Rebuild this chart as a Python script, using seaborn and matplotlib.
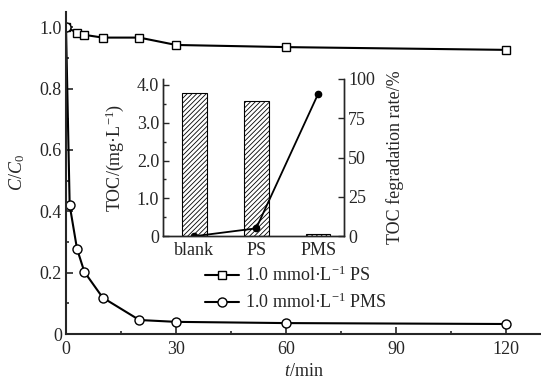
import matplotlib
matplotlib.use('Agg')
import matplotlib.pyplot as plt
from matplotlib.ticker import MultipleLocator, FuncFormatter
import seaborn as sns
import pandas as pd

# 주 그래프 데이터 (C/C0 vs t)
t_ps = [0, 3, 5, 10, 20, 30, 60, 120]
c_ps = [1.0, 0.982, 0.975, 0.966, 0.966, 0.942, 0.935, 0.926]
t_pms = [0, 1, 3, 5, 10, 20, 30, 60, 120]
c_pms = [1.0, 0.42, 0.278, 0.203, 0.119, 0.046, 0.040, 0.036, 0.033]

# 삽입 그래프 데이터 (TOC)
groups = ['blank', 'PS', 'PMS']
toc = [3.78, 3.57, 0.07]
toc_rate = [0.0, 5.0, 90.4]

sns.set_style('ticks')
plt.rcParams['font.family'] = ['Liberation Serif', 'DejaVu Serif']
plt.rcParams['mathtext.fontset'] = 'custom'
plt.rcParams['mathtext.rm'] = 'Liberation Serif'
plt.rcParams['mathtext.it'] = 'Liberation Serif:italic'
plt.rcParams['hatch.color'] = '#808080'
plt.rcParams['hatch.linewidth'] = 0.6

fs = 13
fig = plt.figure(figsize=(5.41, 3.81), dpi=100)
ax = fig.add_axes([0.122, 0.123, 0.878, 0.846])

sns.lineplot(x=t_ps, y=c_ps, ax=ax, color='black', lw=1.5, marker='s',
             markersize=5.5, markerfacecolor='white', markeredgecolor='black',
             markeredgewidth=1.0, label=r'1.0 mmol·L$^{-1}$ PS')
sns.lineplot(x=t_pms, y=c_pms, ax=ax, color='black', lw=1.5, marker='o',
             markersize=6.5, markerfacecolor='white', markeredgecolor='black',
             markeredgewidth=1.0, label=r'1.0 mmol·L$^{-1}$ PMS')

ax.set_xlim(0, 129.5)
ax.set_ylim(0, 1.05)
ax.xaxis.set_major_locator(MultipleLocator(30))
ax.xaxis.set_minor_locator(MultipleLocator(15))
ax.yaxis.set_major_locator(MultipleLocator(0.2))
ax.yaxis.set_minor_locator(MultipleLocator(0.1))
ax.yaxis.set_major_formatter(FuncFormatter(lambda v, p: '0' if abs(v) < 1e-9 else f'{v:.1f}'))
sns.despine(ax=ax)
for s in ['left', 'bottom']:
    ax.spines[s].set_linewidth(1.5)
ax.tick_params(which='both', direction='in', labelsize=fs, width=1.2, pad=3)
ax.tick_params(axis='x', which='both', pad=5)
ax.tick_params(which='major', length=5)
ax.tick_params(which='minor', length=2.5)
ax.set_xlabel(r'$t$/min', fontsize=fs, labelpad=3.5)
ax.set_ylabel(r'$C$/$C_{\mathrm{0}}$', fontsize=fs, labelpad=9)

leg = ax.legend(loc='upper left', bbox_to_anchor=(205 / 541, 1 - 266 / 381),
                bbox_transform=fig.transFigure, frameon=False, fontsize=fs,
                borderpad=0, borderaxespad=0, handlelength=1.9,
                handletextpad=0.3, labelspacing=0.4)

# 삽입 그래프
ins = fig.add_axes([0.302, 0.380, 0.334, 0.413])
df = pd.DataFrame({'group': groups, 'toc': toc, 'rate': toc_rate})
sns.barplot(data=df, x='group', y='toc', ax=ins, color='white', width=0.4,
            edgecolor='black', linewidth=0.8, hatch='///////')
ins.set_xlim(-0.5, 2.42)
ins.set_ylim(0, 4.16)
ins.yaxis.set_major_locator(MultipleLocator(1.0))
ins.yaxis.set_minor_locator(MultipleLocator(0.5))
ins.yaxis.set_major_formatter(FuncFormatter(lambda v, p: '0' if abs(v) < 1e-9 else f'{v:.1f}'))
ins.set_xlabel('')
ins.set_ylabel('TOC/(mg·L$^{-1}$)', fontsize=fs, labelpad=8)
ins.tick_params(axis='y', which='both', direction='in', labelsize=fs, width=1.0, pad=3)
ins.tick_params(axis='y', which='major', length=4)
ins.tick_params(axis='y', which='minor', length=2)
ins.tick_params(axis='x', direction='in', length=0, labelsize=fs, pad=4)

ins2 = ins.twinx()
ins2.plot(range(len(groups)), toc_rate, color='black', lw=1.3, marker='o',
          markersize=4.5)
ins2.set_ylim(0, 100)
ins2.yaxis.set_major_locator(MultipleLocator(25))
ins2.set_ylabel('TOC fegradation rate/%', fontsize=fs, labelpad=8)
ins2.tick_params(axis='y', direction='in', length=4, width=1.0, labelsize=fs, pad=3)

for a in (ins, ins2):
    a.spines['top'].set_visible(False)
    a.set_facecolor('none')
    for s in ['left', 'right', 'bottom']:
        a.spines[s].set_linewidth(1.0)

fig.savefig('out.png', dpi=100)
